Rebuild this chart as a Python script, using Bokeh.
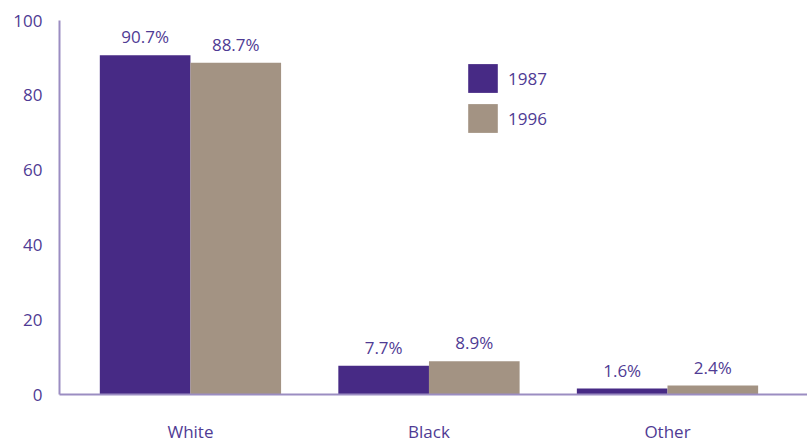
import numpy as np
from bokeh.plotting import figure
from bokeh.models import ColumnDataSource, Range1d, FixedTicker, Legend, LegendItem
from bokeh.transform import dodge
from bokeh.embed import file_html
from bokeh.resources import INLINE

categories = ["White", "Black", "Other"]
v1987 = [90.7, 7.7, 1.6]
v1996 = [88.7, 8.9, 2.4]
series = ["1987", "1996"]
y_ticks = [0, 20, 40, 60, 80, 100]

PURPLE = "#472a85"
TAN = "#a39383"
TEXT = "#4f3b94"
AXIS = "#9b8dc2"
FONT = "Open Sans"
FS = "17px"

x = list(range(len(categories)))
src = ColumnDataSource(dict(
    x=x, cat=categories, v1987=v1987, v1996=v1996,
    l1987=[f"{v}%" for v in v1987], l1996=[f"{v}%" for v in v1996],
))

p = figure(width=807, height=443, frame_width=748, frame_height=374,
           output_backend="svg", toolbar_location=None,
           x_range=Range1d(-0.549, 2.587), y_range=Range1d(0, 100),
           min_border_left=59, min_border_right=0, min_border_top=20, min_border_bottom=49)

bw = 0.38
r1 = p.vbar(x=dodge("x", -bw / 2, range=p.x_range), top="v1987", width=bw, source=src,
            fill_color=PURPLE, line_color=None)
r2 = p.vbar(x=dodge("x", bw / 2, range=p.x_range), top="v1996", width=bw, source=src,
            fill_color=TAN, line_color=None)

for col, lab, off in [("v1987", "l1987", -bw / 2), ("v1996", "l1996", bw / 2)]:
    p.text(x=dodge("x", off, range=p.x_range), y=col, text=lab, source=src,
           text_align="center", text_baseline="bottom", y_offset=-7,
           text_font={"value": FONT}, text_font_size=FS, text_color=TEXT)

p.outline_line_color = None
p.grid.visible = False
p.background_fill_color = "white"
p.border_fill_color = "white"

p.xaxis.ticker = FixedTicker(ticks=x)
p.xaxis.major_label_overrides = {i: c for i, c in enumerate(categories)}
p.yaxis.ticker = FixedTicker(ticks=y_ticks)
for ax in (p.xaxis, p.yaxis):
    ax.axis_line_color = AXIS
    ax.axis_line_width = 2
    ax.major_tick_line_color = None
    ax.minor_tick_line_color = None
    ax.major_label_text_font = FONT
    ax.major_label_text_font_size = FS
    ax.major_label_text_color = TEXT
p.xaxis.major_label_standoff = 19
p.yaxis.major_label_standoff = 11

legend = Legend(items=[LegendItem(label=series[0], renderers=[r1]),
                       LegendItem(label=series[1], renderers=[r2])],
                location=(405, 258), orientation="vertical",
                glyph_width=37, glyph_height=36, label_height=36, spacing=4,
                padding=0, margin=0, label_standoff=7,
                border_line_alpha=0, background_fill_alpha=0,
                label_text_font=FONT, label_text_font_size=FS, label_text_color=TEXT)
p.add_layout(legend)

open("out.html", "w").write(file_html(p, INLINE))
